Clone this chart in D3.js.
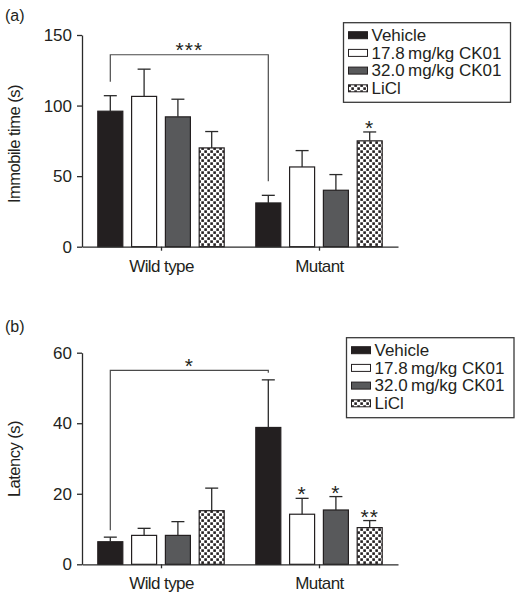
<!DOCTYPE html>
<html>
<head>
<meta charset="utf-8">
<script src="https://cdn.jsdelivr.net/npm/d3@7"></script>
<style>
  html, body { margin: 0; padding: 0; background: #fff; }
  svg { display: block; }
  text { font-family: "Liberation Sans", Arial, Helvetica, sans-serif; fill: #231f20; }
</style>
</head>
<body>
<svg id="chart" width="521" height="601"></svg>
<script>
// ---------- data ----------
const categories = ["Wild type", "Mutant"];
const treatments = ["Vehicle", "17.8\u2009mg/kg CK01", "32.0\u2009mg/kg CK01", "LiCl"];

// Panel (a): immobile time (s), mean and SEM, rows = categories, cols = treatments
const immobileMean = [[96, 106.5, 92, 70], [31, 56.5, 40, 75]];
const immobileErr  = [[11, 19.3, 12.5, 11.6], [5.4, 11.6, 11.1, 6.3]];
const immobileTicks = [0, 50, 100, 150];

// Panel (b): latency (s)
const latencyMean = [[6.4, 8.2, 8.2, 15.2], [38.8, 14.2, 15.4, 10.4]];
const latencyErr  = [[1.3, 2.0, 3.9, 6.4], [13.5, 4.5, 3.8, 2.0]];
const latencyTicks = [0, 20, 40, 60];

// significance brackets: from (category, treatment) to (category, treatment) at a data level
const bracketA = { from: ["Wild type", 0], to: ["Mutant", 0], level: 136, label: "***" };
const bracketB = { from: ["Wild type", 0], to: ["Mutant", 0], level: 55, label: "*" };
// asterisks above single bars
const starsA = [{ cat: "Mutant", t: 3, label: "*" }];
const starsB = [{ cat: "Mutant", t: 1, label: "*" }, { cat: "Mutant", t: 2, label: "*" }, { cat: "Mutant", t: 3, label: "**" }];

// ---------- drawing ----------
const svg = d3.select("#chart");
const defs = svg.append("defs");
const pat = defs.append("pattern").attr("id", "checker")
  .attr("patternUnits", "userSpaceOnUse").attr("width", 6).attr("height", 6);
pat.append("rect").attr("width", 6).attr("height", 6).attr("fill", "#fff");
pat.append("rect").attr("x", 0.3).attr("y", 0.3).attr("width", 2.6).attr("height", 2.6).attr("fill", "#231f20");
pat.append("rect").attr("x", 3.3).attr("y", 3.3).attr("width", 2.6).attr("height", 2.6).attr("fill", "#231f20");

const fills = ["#231f20", "#ffffff", "#58595b", "url(#checker)"];
const ink = "#2a2a2a";

function drawPanel(cfg) {
  const g = svg.append("g");
  const x0 = d3.scalePoint().domain(categories).range([cfg.left, cfg.right]).padding(0.5);
  const x1 = d3.scaleBand().domain(d3.range(treatments.length)).range([-63.2, 63.2])
    .paddingInner(0.26).paddingOuter(0);
  const y = d3.scaleLinear().domain([0, cfg.ticks[cfg.ticks.length - 1]]).range([cfg.bottom, cfg.top]);
  const bw = x1.bandwidth();
  const cx = (c, t) => x0(c) + x1(t) + bw / 2;

  // bars
  const rows = [];
  categories.forEach((c, ci) => treatments.forEach((tn, ti) => {
    rows.push({ c, ti, v: cfg.mean[ci][ti], e: cfg.err[ci][ti] });
  }));
  g.selectAll("rect.bar").data(rows).join("rect")
    .attr("class", "bar")
    .attr("x", d => x0(d.c) + x1(d.ti))
    .attr("y", d => y(d.v))
    .attr("width", bw)
    .attr("height", d => y(0) - y(d.v))
    .attr("fill", d => fills[d.ti])
    .attr("stroke", "#231f20").attr("stroke-width", 1.2);

  // error bars (upper only)
  g.selectAll("line.err").data(rows).join("line")
    .attr("class", "err")
    .attr("x1", d => cx(d.c, d.ti)).attr("x2", d => cx(d.c, d.ti))
    .attr("y1", d => y(d.v)).attr("y2", d => y(d.v + d.e))
    .attr("stroke", ink).attr("stroke-width", 1.3);
  g.selectAll("line.cap").data(rows).join("line")
    .attr("class", "cap")
    .attr("x1", d => cx(d.c, d.ti) - 6.5).attr("x2", d => cx(d.c, d.ti) + 6.5)
    .attr("y1", d => y(d.v + d.e)).attr("y2", d => y(d.v + d.e))
    .attr("stroke", ink).attr("stroke-width", 1.3);

  // axes
  const yAxis = d3.axisLeft(y).tickValues(cfg.ticks).tickSize(5).tickSizeOuter(0).tickPadding(5);
  const ya = g.append("g").attr("transform", `translate(${cfg.left},0)`).call(yAxis);
  const xAxis = d3.axisBottom(x0).tickSize(4).tickSizeOuter(0).tickPadding(9);
  const xa = g.append("g").attr("transform", `translate(0,${cfg.bottom})`).call(xAxis);
  [ya, xa].forEach(a => {
    a.selectAll("path, line").attr("stroke", ink).attr("stroke-width", 1.3);
    a.selectAll("text").attr("font-size", "17px").attr("fill", "#231f20")
      .attr("font-family", '"Liberation Sans", Arial, sans-serif');
  });
  xa.selectAll("text").attr("letter-spacing", "-0.6px");

  // axis title
  g.append("text")
    .attr("transform", `translate(20,${cfg.titleY}) rotate(-90)`)
    .attr("text-anchor", "middle").attr("font-size", "16.5px")
    .attr("letter-spacing", "-0.5px")
    .text(cfg.title);

  // panel label
  g.append("text").attr("x", 5).attr("y", cfg.labelY).attr("font-size", "16px").text(cfg.panel);

  // bracket
  const b = cfg.bracket;
  const bx1 = cx(b.from[0], b.from[1]), bx2 = cx(b.to[0], b.to[1]);
  const fi = categories.indexOf(b.from[0]), ti = categories.indexOf(b.to[0]);
  const yb1 = y(cfg.mean[fi][b.from[1]] + cfg.err[fi][b.from[1]]) - cfg.gap;
  const yb2 = y(cfg.mean[ti][b.to[1]] + cfg.err[ti][b.to[1]]) - cfg.gap;
  const yl = y(b.level);
  g.append("path")
    .attr("d", `M${bx1},${yb1}V${yl}H${bx2}V${Math.max(yb2, yl)}`)
    .attr("fill", "none").attr("stroke", "#4a4a4a").attr("stroke-width", 1.2);
  const starFs = 21;
  g.append("text").attr("x", (bx1 + bx2) / 2).attr("y", yl - 6.5 + 0.43 * starFs)
    .attr("text-anchor", "middle").attr("font-size", starFs + "px").attr("fill", "#7a7a7a")
    .attr("letter-spacing", "1px")
    .text(b.label);

  // single-bar stars
  g.selectAll("text.star").data(cfg.stars).join("text")
    .attr("class", "star")
    .attr("x", d => cx(d.cat, d.t))
    .attr("y", d => {
      const ci = categories.indexOf(d.cat);
      return y(cfg.mean[ci][d.t] + cfg.err[ci][d.t]) - 6 + 0.43 * starFs;
    })
    .attr("text-anchor", "middle").attr("font-size", starFs + "px").attr("fill", "#7a7a7a")
    .attr("letter-spacing", "1px")
    .text(d => d.label);

  // legend
  const L = cfg.legend;
  const lg = g.append("g");
  lg.append("rect").attr("x", L.x).attr("y", L.y).attr("width", L.w).attr("height", L.h)
    .attr("fill", "#fff").attr("stroke", "#3a3a3a").attr("stroke-width", 1.3);
  treatments.forEach((t, i) => {
    const base = L.y + 18.3 + i * 17.7;
    lg.append("rect").attr("x", L.x + 5).attr("y", base - 9.3).attr("width", 19).attr("height", 7)
      .attr("fill", fills[i]).attr("stroke", "#231f20").attr("stroke-width", 1);
    lg.append("text").attr("x", L.x + 28).attr("y", base).attr("font-size", "17px").text(t);
  });
}

drawPanel({
  panel: "(a)", labelY: 20.5,
  left: 82, right: 398, top: 35, bottom: 246.7,
  ticks: immobileTicks, mean: immobileMean, err: immobileErr,
  title: "Immobile time (s)", titleY: 144,
  bracket: bracketA, gap: 14, stars: starsA,
  legend: { x: 343.5, y: 22.7, w: 167, h: 79.6 }
});

drawPanel({
  panel: "(b)", labelY: 331.5,
  left: 82, right: 398, top: 352.7, bottom: 564.3,
  ticks: latencyTicks, mean: latencyMean, err: latencyErr,
  title: "Latency (s)", titleY: 459,
  bracket: bracketB, gap: 7, stars: starsB,
  legend: { x: 346.5, y: 337.7, w: 167.5, h: 80 }
});
</script>
</body>
</html>
